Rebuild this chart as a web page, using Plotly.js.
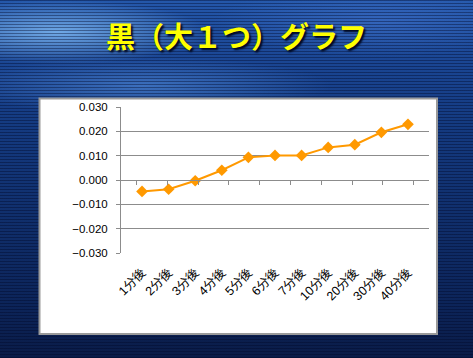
<!DOCTYPE html>
<html>
<head>
<meta charset="utf-8">
<script src="https://cdn.plot.ly/plotly-3.0.1.min.js"></script>
<style>
html,body{margin:0;padding:0;}
#chart{
  width:473px;height:358px;
  background:
    repeating-linear-gradient(180deg, rgba(0,8,40,0.4) 0px, rgba(0,8,40,0.4) 1px, rgba(0,0,0,0) 1px, rgba(0,0,0,0) 3px),
    radial-gradient(ellipse 32% 9% at 12% 9%, rgba(140,200,255,0.75), rgba(140,200,255,0) 100%),
    radial-gradient(ellipse 40% 8% at 30% 24%, rgba(90,150,230,0.55), rgba(90,150,230,0) 100%),
    radial-gradient(ellipse 35% 10% at 80% 6%, rgba(70,120,210,0.5), rgba(70,120,210,0) 100%),
    linear-gradient(180deg, #2457aa 0%, #1a4592 18%, #143a80 35%, #102f6c 60%, #0c2459 85%, #0a1c48 100%);
}
</style>
</head>
<body>
<div id="chart"></div>
<script>
const categories = ["1分後","2分後","3分後","4分後","5分後","6分後","7分後","10分後","20分後","30分後","40分後"];
const values = [-0.0047, -0.0038, -0.0003, 0.0040, 0.0093, 0.0101, 0.0101, 0.0134, 0.0145, 0.0196, 0.0229];
const yTickValues = [-0.03, -0.02, -0.01, 0, 0.01, 0.02, 0.03];
const titleText = "黒（大１つ）グラフ";

const orange = "#ff9900";
const gray = "#8c8c8c";
const yTickFont = {family: "Liberation Sans, Arial, Noto Sans CJK JP", size: 11.5, color: "#000"};
const xTickFont = {family: "Liberation Sans, Arial, Noto Sans CJK JP", size: 12.5, color: "#000"};

const traces = [
  {
    x: categories, y: values, type: "scatter", mode: "lines+markers",
    line: {color: orange, width: 2},
    marker: {symbol: "diamond", size: 9, color: orange},
    hoverinfo: "x+y", showlegend: false
  },
  {
    x: categories, y: values, xaxis: "x2", type: "scatter", mode: "lines",
    line: {color: "rgba(0,0,0,0)", width: 0}, opacity: 0,
    hoverinfo: "skip", showlegend: false
  }
];

const layout = {
  width: 473, height: 358,
  margin: {l: 121, r: 44, t: 107, b: 105},
  paper_bgcolor: "rgba(0,0,0,0)",
  plot_bgcolor: "#ffffff",
  title: {
    text: titleText, x: 0.5, xref: "container", xanchor: "center",
    y: 0.893, yref: "container", yanchor: "middle",
    font: {family: "Noto Sans CJK JP", size: 29, color: "#ffff00", weight: "bold", shadow: "2px 2px 2px #000820"}
  },
  xaxis: {
    type: "category", showgrid: false, showline: false, zeroline: false,
    ticks: "", tickangle: -45, tickfont: xTickFont, ticklabelstandoff: 9,
    fixedrange: true
  },
  xaxis2: {
    type: "category", overlaying: "x", anchor: "free", position: 0.5,
    showline: true, linecolor: gray, linewidth: 1,
    ticks: "outside", ticklen: 4, tickcolor: gray, tickson: "boundaries",
    showticklabels: false, showgrid: false, zeroline: false, fixedrange: true
  },
  yaxis: {
    range: [-0.03, 0.03], tickvals: yTickValues, tickformat: ".3f",
    showgrid: true, gridcolor: gray, gridwidth: 1,
    showline: true, linecolor: gray, linewidth: 1,
    ticks: "outside", ticklen: 4, tickcolor: gray,
    zeroline: false, tickfont: yTickFont, ticklabelstandoff: 6, fixedrange: true
  },
  shapes: [{
    type: "rect", xref: "paper", yref: "paper", layer: "below",
    x0: -0.2646, x1: 1.026, y0: -0.555, y1: 1.058,
    fillcolor: "#ffffff", line: {color: "#9a9a9a", width: 2}
  }]
};

Plotly.newPlot("chart", traces, layout, {displayModeBar: false, staticPlot: true});
</script>
</body>
</html>
